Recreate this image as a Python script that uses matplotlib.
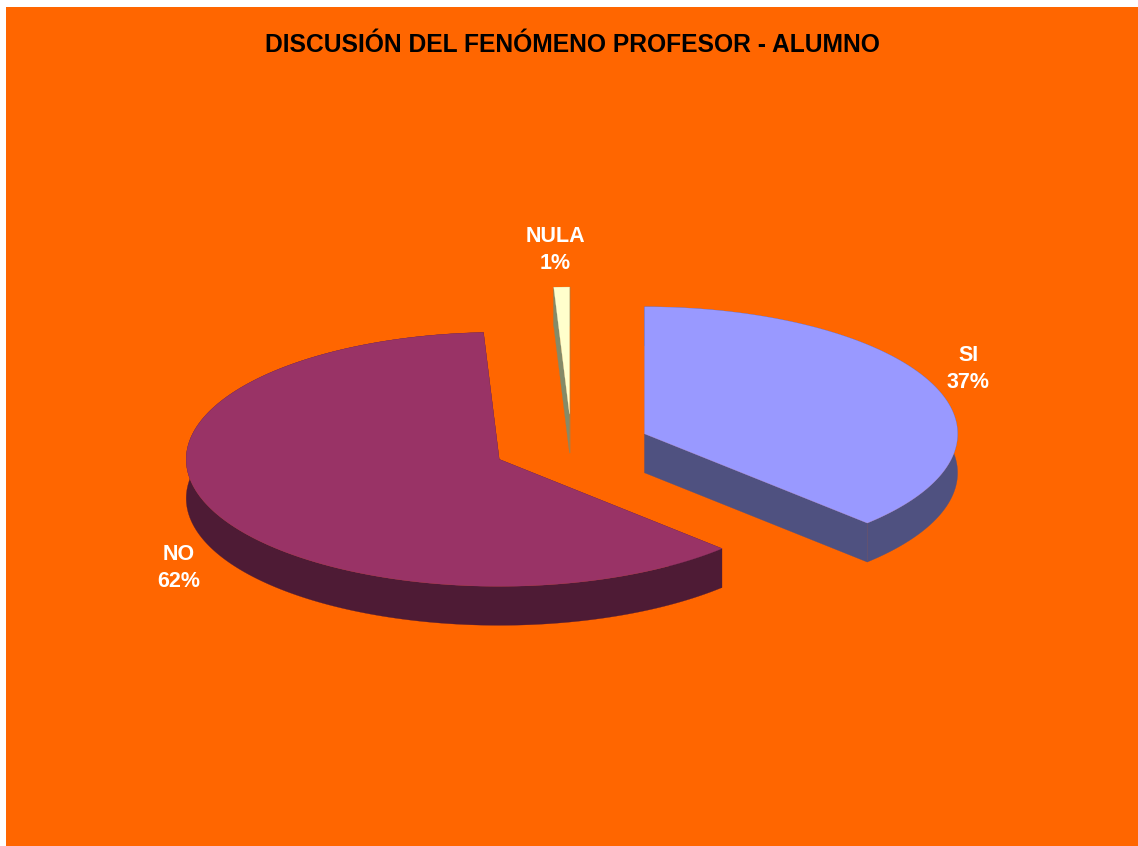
import numpy as np
import matplotlib
matplotlib.use("Agg")
import matplotlib.pyplot as plt
from matplotlib.patches import Polygon, Rectangle

plt.rcParams["font.family"] = ["Liberation Sans", "DejaVu Sans"]

# clockwise from 12 o'clock
categories = ["SI", "NO", "NULA"]
shares = [37.4, 61.8, 0.8]
top_colors = ["#9999FF", "#993366", "#FFFFCC"]
side_colors = ["#4F5180", "#4E1B35", "#858A68"]
title = "DISCUSIÓN DEL FENÓMENO PROFESOR - ALUMNO"

W, H = 1138, 846
CX, CY = 571.5, 446.2
RX, RY = 313, 127
DEPTH = 39
EXPLODE = 0.253
ORANGE = "#FF6600"

# where each label goes, pixels
label_pos = {"SI": (968.5, 369), "NO": (178.5, 568), "NULA": (555, 250)}

fig = plt.figure(figsize=(W / 100, H / 100), dpi=100, facecolor="white")
ax = fig.add_axes([0, 0, 1, 1])
ax.set_xlim(0, W)
ax.set_ylim(H, 0)
ax.axis("off")
ax.add_patch(Rectangle((6, 7), W - 6, H - 7, facecolor=ORANGE, edgecolor="none"))


def rim(theta, cx, cy):
    return np.column_stack([cx + RX * np.cos(theta), cy - RY * np.sin(theta)])


start = np.pi / 2
fracs = np.array(shares) / sum(shares)
for frac, top_c, side_c in zip(fracs, top_colors, side_colors):
    sweep = 2 * np.pi * frac
    mid = start - sweep / 2
    cx = CX + EXPLODE * RX * np.cos(mid)
    cy = CY - EXPLODE * RY * np.sin(mid)
    theta = np.linspace(start, start - sweep, max(int(np.degrees(sweep)) * 2, 8))
    arc = rim(theta, cx, cy)
    centre = np.array([[cx, cy]])
    drop = np.array([0, DEPTH])

    # side faces first, top goes over them
    for end_pt in (arc[0], arc[-1]):
        quad = np.array([[cx, cy], end_pt, end_pt + drop, [cx, cy + DEPTH]])
        ax.add_patch(Polygon(quad, facecolor=side_c, edgecolor=side_c, lw=0.2, joinstyle="round"))
    band = np.vstack([arc, (arc + drop)[::-1]])
    ax.add_patch(Polygon(band, facecolor=side_c, edgecolor=side_c, lw=0.2, joinstyle="round"))
    ax.add_patch(Polygon(np.vstack([centre, arc]), facecolor=top_c, edgecolor=top_c, lw=0.2,
                         joinstyle="round"))
    start -= sweep

for name, val in zip(categories, shares):
    x, y = label_pos[name]
    ax.text(x, y, f"{name}\n{round(val)}%", color="white", fontsize=15.5, fontweight="bold",
            ha="center", va="center", linespacing=1.37)

ax.text(572, 45, title, color="black", fontsize=17.7, fontweight="bold", ha="center", va="center")

fig.savefig("out.png", dpi=100, facecolor=fig.get_facecolor())
